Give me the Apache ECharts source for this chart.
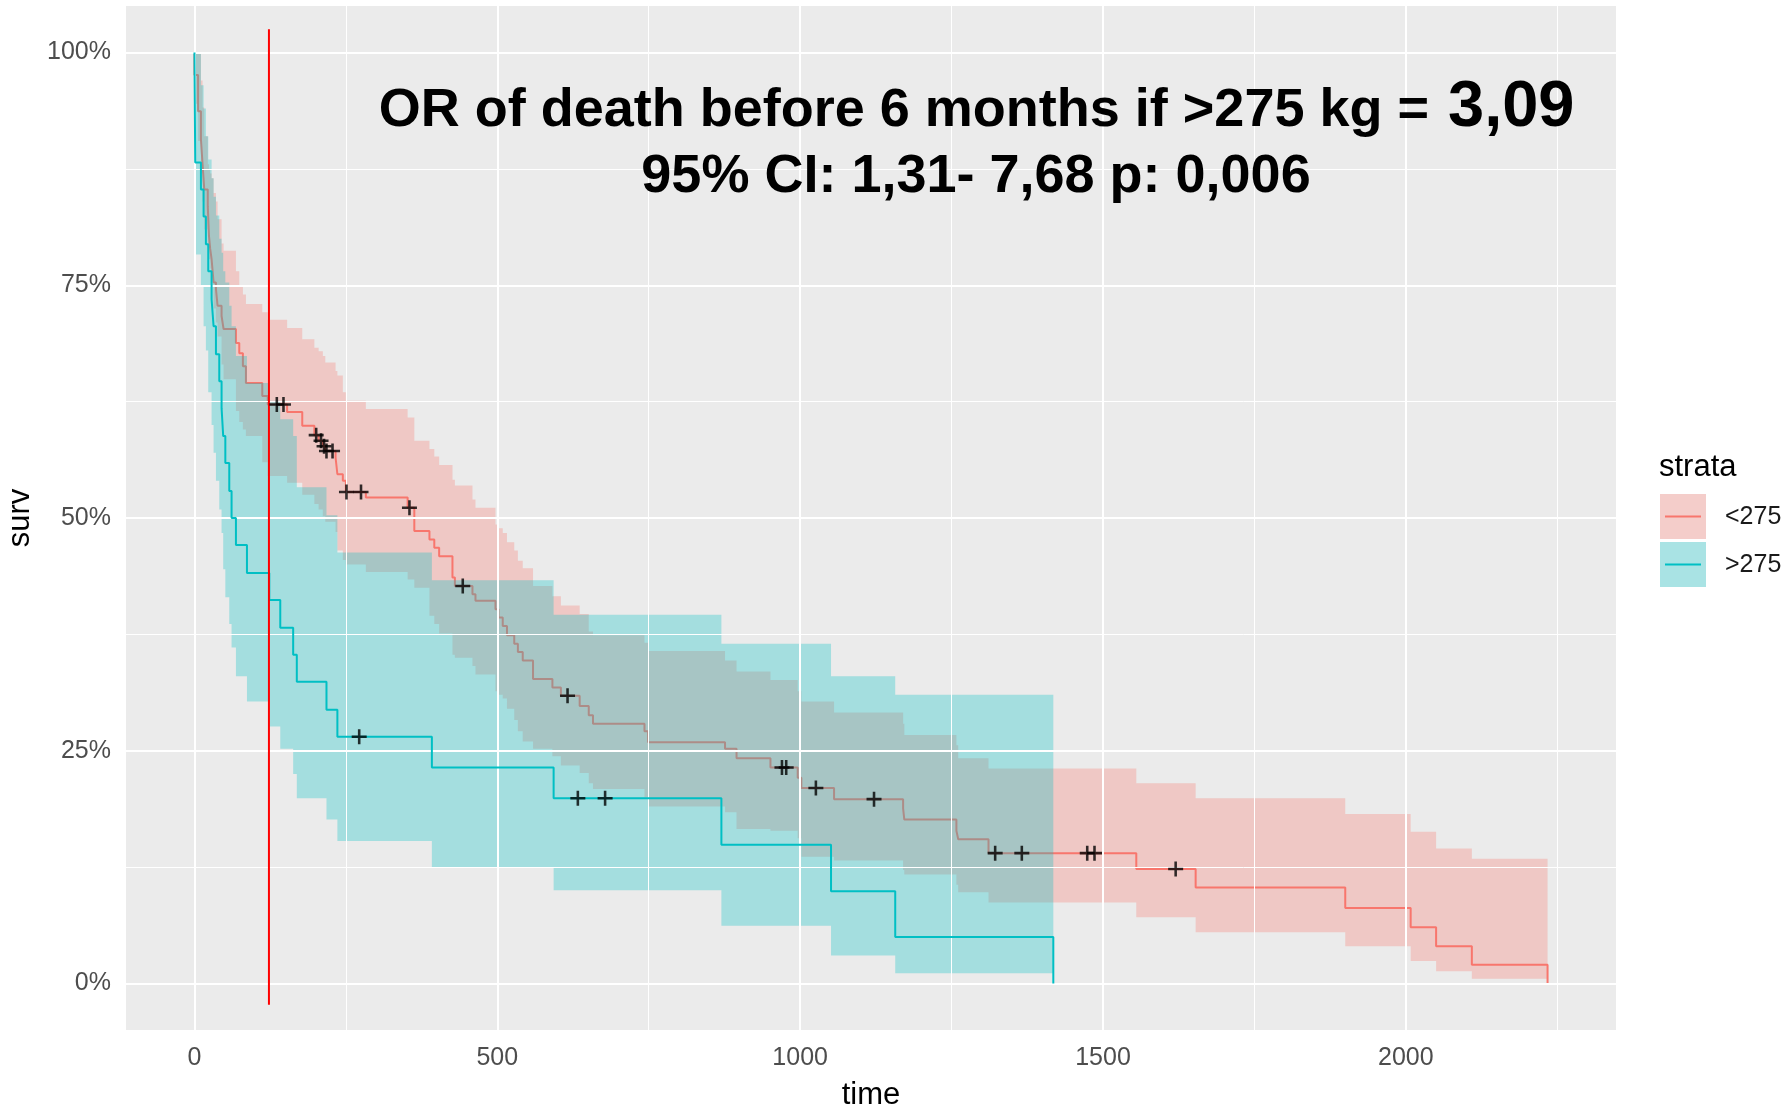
<!DOCTYPE html>
<html>
<head>
<meta charset="utf-8">
<script src="https://cdn.jsdelivr.net/npm/echarts@6/dist/echarts.min.js"></script>
<style>
  html, body { margin: 0; padding: 0; background: #fff; }
  #main { width: 1790px; height: 1108px; }
</style>
</head>
<body>
<div id="main"></div>
<script>
// axis ticks / grid
const xTicks = [0, 500, 1000, 1500, 2000];
const xMinor = [250, 750, 1250, 1750, 2250];
const yTicks = [0, 25, 50, 75, 100];
const yMinor = [12.5, 37.5, 62.5, 87.5];

// strata <275 (red)
const ltTime = [0, 0, 6, 10.7, 13.4, 16.2, 22, 24, 26, 28.3, 31.6, 35.5, 38.2, 44.8, 48.1, 68.5, 74, 80, 85, 112,
  121, 153, 178, 198, 205, 212, 216, 233, 236, 245, 250, 283, 352, 363, 388, 396, 404, 426, 430, 459,
  464, 497, 502, 509, 516, 528, 534, 542, 559, 591, 605, 636, 651, 658, 743, 749, 876, 895, 951, 996,
  1002, 1056, 1170, 1172, 1258, 1261, 1311, 1555, 1653, 1900, 2008, 2050, 2109, 2234];
const ltSurv = [100, 97.6, 93.7, 90.7, 88.0, 85.3, 83.5, 80.3, 78.9, 77.8, 75.3, 74.6, 72.8, 71.7, 70.3, 68.8, 67.7, 66.3, 64.5, 63.1,
  62.2, 61.4, 59.9, 58.9, 58.3, 57.7, 57.2, 56.5, 54.7, 54.0, 52.8, 52.2, 51.1, 48.6, 47.7, 46.8, 45.9, 43.6, 42.7, 41.8,
  41.1, 40.2, 39.3, 38.4, 37.4, 36.5, 35.6, 34.7, 32.7, 31.8, 30.9, 29.8, 28.8, 27.9, 27.1, 25.9, 25.2, 24.2, 23.2, 22.1,
  21.0, 19.8, 18.8, 17.6, 16.4, 15.5, 14.0, 12.3, 10.3, 8.1, 6.05, 4.0, 2.0, 0];
const ltBandTime = ltTime.slice(1, -1);
const ltBandEnd = 2234;
const ltUpper = [100, 100, 97.0, 94.1, 91.0, 88.0, 87.5, 87.0, 86.5, 84.9, 84.0, 82.1, 79.5, 78.7, 76.5, 74.9, 74.0, 73.0, 72.1,
  71.3, 70.4, 69.2, 68.3, 67.9, 67.4, 66.7, 65.8, 65.3, 63.5, 62.6, 61.7, 60.8, 58.3, 57.4, 56.6, 55.7, 54.1, 53.5, 52.0,
  51.1, 49.3, 48.9, 48.4, 47.4, 46.5, 45.4, 44.6, 42.7, 41.6, 40.6, 39.7, 37.8, 37.4, 36.6, 35.7, 34.7, 33.5, 32.6, 31.4,
  30.3, 29.1, 27.9, 26.7, 25.6, 24.2, 23.1, 21.5, 19.9, 18.2, 16.3, 14.5, 13.4];
const ltLower = [94.5, 90.5, 87.0, 84.0, 81.0, 79.0, 77.8, 76.8, 76.0, 72.5, 71.0, 69.5, 66.5, 64.9, 61.5, 60.3, 59.5, 58.8, 56.0,
  54.5, 53.8, 52.5, 51.5, 50.9, 50.2, 49.6, 48.5, 46.5, 45.5, 45.0, 44.2, 43.4, 42.5, 39.5, 38.6, 37.6, 35.3, 35.0, 34.1,
  33.2, 31.4, 31.0, 30.6, 29.5, 28.3, 27.1, 26.0, 25.2, 24.4, 23.4, 22.6, 21.5, 20.9, 20.0, 19.0, 18.4, 16.6, 16.4, 15.6,
  13.6, 13.2, 12.2, 11.7, 10.6, 9.8, 8.7, 7.1, 5.5, 4.0, 2.4, 1.3, 0.5];
const ltCensorTime = [136, 147, 201, 209, 214, 218, 228, 251, 275, 355, 443, 616, 970, 977, 1026, 1122, 1322, 1366, 1474, 1486, 1620];
const ltCensorSurv = [62.2, 62.2, 58.9, 58.3, 57.7, 57.2, 57.2, 52.8, 52.8, 51.1, 42.7, 30.9, 23.2, 23.2, 21.0, 19.8, 14.0, 14.0, 14.0, 14.0, 12.3];

// strata >275 (cyan)
const gtTime = [0, 1.3, 10.7, 15.1, 18.9, 22.8, 28.3, 31.6, 35.5, 41, 44.8, 47.5, 51, 57.5, 61.3, 68.5, 86.7, 123.6, 141.7, 163,
  169, 218, 236, 392, 593, 870, 1051, 1157, 1418];
const gtSurv = [100, 88.2, 85.3, 82.4, 79.4, 76.5, 73.5, 70.6, 67.6, 64.7, 61.8, 58.8, 55.9, 52.9, 50.0, 47.1, 44.1, 41.2, 38.2, 35.3,
  32.4, 29.4, 26.5, 23.2, 19.9, 14.9, 9.9, 5.0, 0];
const gtBandTime = gtTime.slice(1, -1);
const gtBandEnd = 1418;
const gtUpper = [100, 96.5, 94, 91, 88.5, 86.5, 84.5, 82.5, 80, 78.5, 76.5, 75.3, 72.8, 70.6, 67.4, 64.5, 62.6, 60.6, 58.8,
  53.3, 50.3, 46.3, 43.3, 39.6, 36.5, 33.0, 31.0];
const gtLower = [78.3, 74.9, 70.6, 68.0, 63.5, 60.0, 57.0, 54.0, 50.9, 48.4, 44.5, 41.5, 38.6, 36.1, 33.0, 30.3, 27.6, 25.2, 22.5,
  19.9, 17.6, 15.3, 12.5, 10.0, 6.2, 3.0, 1.1];
const gtCensorTime = [272, 633, 678];
const gtCensorSurv = [26.5, 19.9, 19.9];

// vertical marker
const cutoffDay = 123;
const cutoffSpan = [-2.3, 102.5];

const RED = '#F8766D';
const CYAN = '#00BFC4';
const FONT = 'Liberation Sans, Arial, sans-serif';

function zip(a, b) {
  return a.map((v, i) => [v, b[i]]);
}

// step ribbon outline: upper edge forwards, lower edge backwards
function bandPoints(times, end, upper, lower) {
  const pts = [];
  for (let i = 0; i < times.length; i++) {
    const x1 = i < times.length - 1 ? times[i + 1] : end;
    pts.push([times[i], upper[i]], [x1, upper[i]]);
  }
  for (let i = times.length - 1; i >= 0; i--) {
    const x1 = i < times.length - 1 ? times[i + 1] : end;
    pts.push([x1, lower[i]], [times[i], lower[i]]);
  }
  return pts;
}

function bandSeries(pts, fill, z) {
  return {
    type: 'custom',
    z: z,
    silent: true,
    data: [[0, 0]],
    renderItem: (params, api) => ({
      type: 'polygon',
      shape: { points: pts.map(p => api.coord(p)) },
      style: { fill: fill }
    })
  };
}

function gridSeries(vals, axis, width) {
  return {
    type: 'line',
    z: 1,
    data: [],
    markLine: {
      silent: true,
      symbol: ['none', 'none'],
      label: { show: false },
      lineStyle: { color: '#FFFFFF', width: width, type: 'solid' },
      data: vals.map(v => ({ [axis]: v }))
    }
  };
}

const plusPath = 'path://M-1.2,-7L1.2,-7L1.2,-1.2L7,-1.2L7,1.2L1.2,1.2L1.2,7L-1.2,7L-1.2,1.2L-7,1.2L-7,-1.2L-1.2,-1.2Z';

var myChart = echarts.init(document.getElementById('main'));
myChart.setOption({
  animation: false,
  grid: {
    left: 126, right: 174, top: 6, bottom: 78,
    show: true, backgroundColor: '#EBEBEB', borderWidth: 0,
    outerBoundsMode: 'none'
  },
  xAxis: {
    type: 'value', min: -113, max: 2347,
    name: 'time', nameLocation: 'middle', nameGap: 50,
    nameTextStyle: { fontSize: 31, color: '#000', fontFamily: FONT },
    axisLine: { show: false },
    axisTick: { show: true, length: 8, customValues: xTicks, lineStyle: { color: '#333', width: 2 } },
    axisLabel: { customValues: xTicks, margin: 16, fontSize: 25, color: '#4D4D4D', fontFamily: FONT,
      formatter: v => String(v) },
    splitLine: { show: false }
  },
  yAxis: {
    type: 'value', min: -5, max: 105,
    name: 'surv', nameLocation: 'middle', nameGap: 83, nameRotate: 90,
    nameTextStyle: { fontSize: 31, color: '#000', fontFamily: FONT },
    axisLine: { show: false },
    axisTick: { show: true, length: 8, customValues: yTicks, lineStyle: { color: '#333', width: 2 } },
    axisLabel: { customValues: yTicks, margin: 15, fontSize: 25, color: '#4D4D4D', fontFamily: FONT,
      formatter: v => v + '%' },
    splitLine: { show: false }
  },
  graphic: [
    { type: 'text', x: 1429, y: 111, z: 100,
      style: { text: 'OR of death before 6 months if >275 kg =', fill: '#000', align: 'right', verticalAlign: 'middle',
        font: 'bold 54px ' + FONT } },
    { type: 'text', x: 1448, y: 108, z: 100,
      style: { text: '3,09', fill: '#000', align: 'left', verticalAlign: 'middle',
        font: 'bold 65px ' + FONT } },
    { type: 'text', x: 976, y: 177, z: 100,
      style: { text: '95% CI: 1,31- 7,68 p: 0,006', fill: '#000', align: 'center', verticalAlign: 'middle',
        font: 'bold 54px ' + FONT } },
    // legend
    { type: 'text', x: 1659, y: 467, style: { text: 'strata', fill: '#000', align: 'left', verticalAlign: 'middle', font: '31px ' + FONT } },
    { type: 'rect', shape: { x: 1660, y: 494, width: 46, height: 45 }, style: { fill: '#F2F2F2' } },
    { type: 'rect', shape: { x: 1660, y: 494, width: 46, height: 45 }, style: { fill: 'rgba(248,118,109,0.3)' } },
    { type: 'line', shape: { x1: 1665, y1: 516.5, x2: 1701, y2: 516.5 }, style: { stroke: RED, lineWidth: 2 } },
    { type: 'rect', shape: { x: 1660, y: 542, width: 46, height: 45 }, style: { fill: '#F2F2F2' } },
    { type: 'rect', shape: { x: 1660, y: 542, width: 46, height: 45 }, style: { fill: 'rgba(0,191,196,0.3)' } },
    { type: 'line', shape: { x1: 1665, y1: 564.5, x2: 1701, y2: 564.5 }, style: { stroke: CYAN, lineWidth: 2 } },
    { type: 'text', x: 1725, y: 517, style: { text: '<275', fill: '#1A1A1A', align: 'left', verticalAlign: 'middle', font: '25px ' + FONT } },
    { type: 'text', x: 1725, y: 565, style: { text: '>275', fill: '#1A1A1A', align: 'left', verticalAlign: 'middle', font: '25px ' + FONT } }
  ],
  series: [
    gridSeries(xMinor, 'xAxis', 1),
    gridSeries(yMinor, 'yAxis', 1),
    gridSeries(xTicks, 'xAxis', 2),
    gridSeries(yTicks, 'yAxis', 2),
    bandSeries(bandPoints(ltBandTime, ltBandEnd, ltUpper, ltLower), 'rgba(248,118,109,0.3)', 2),
    {
      name: '<275', type: 'line', step: 'end', z: 3, showSymbol: false, silent: true,
      lineStyle: { color: RED, width: 2 }, data: zip(ltTime, ltSurv)
    },
    bandSeries(bandPoints(gtBandTime, gtBandEnd, gtUpper, gtLower), 'rgba(0,191,196,0.3)', 4),
    {
      name: '>275', type: 'line', step: 'end', z: 5, showSymbol: false, silent: true,
      lineStyle: { color: CYAN, width: 2 }, data: zip(gtTime, gtSurv)
    },
    {
      type: 'line', z: 6, showSymbol: false, silent: true,
      lineStyle: { color: '#FF0000', width: 2 },
      data: cutoffSpan.map(v => [cutoffDay, v])
    },
    {
      type: 'scatter', z: 7, silent: true, symbol: plusPath, symbolSize: 15,
      itemStyle: { color: '#000' },
      data: zip(ltCensorTime, ltCensorSurv).concat(zip(gtCensorTime, gtCensorSurv))
    }
  ]
});
</script>
</body>
</html>
